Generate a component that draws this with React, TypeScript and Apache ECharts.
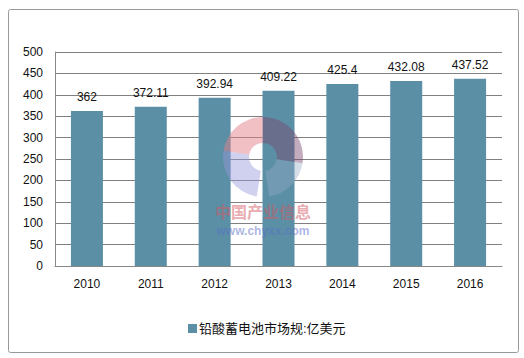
import React, { useEffect, useRef } from "react";
import * as echarts from "echarts";

const categories = ["2010", "2011", "2012", "2013", "2014", "2015", "2016"];
const values = [362, 372.11, 392.94, 409.22, 425.4, 432.08, 437.52];
const valueLabels = ["362", "372.11", "392.94", "409.22", "425.4", "432.08", "437.52"];
const seriesName = "铅酸蓄电池市场规:亿美元";

export default function App() {
  const ref = useRef<HTMLDivElement>(null);
  useEffect(() => {
    const chart = echarts.init(ref.current!, null, { renderer: "svg" });
    const font = "'Liberation Sans', 'Noto Sans CJK SC', sans-serif";
    chart.setOption({
      animation: false,
      backgroundColor: "#ffffff",
      textStyle: { fontFamily: font },
      grid: { left: 55, right: 22, top: 52, bottom: 92 },
      legend: {
        bottom: 18,
        left: 183,
        itemWidth: 9,
        itemHeight: 9,
        itemGap: 4,
        icon: "rect",
        textStyle: { fontSize: 13, color: "#111", fontFamily: font, padding: [0, 0, 0, -3] },
        data: [seriesName],
      },
      xAxis: {
        type: "category",
        data: categories,
        axisTick: { show: false },
        axisLine: { lineStyle: { color: "#888" } },
        axisLabel: { color: "#111", fontSize: 12, margin: 12 },
      },
      yAxis: {
        type: "value",
        min: 0,
        max: 500,
        interval: 50,
        axisLine: { show: true, lineStyle: { color: "#888" } },
        axisTick: { show: false },
        axisLabel: { color: "#111", fontSize: 12, margin: 12 },
        splitLine: { lineStyle: { color: "#808080" } },
      },
      series: [
        {
          name: seriesName,
          type: "bar",
          data: values,
          barWidth: 32,
          itemStyle: { color: "#5b8fa5" },
          label: {
            show: true,
            position: "top",
            distance: 8,
            color: "#111",
            fontSize: 12,
            formatter: (p: any) => valueLabels[p.dataIndex],
          },
        },
      ],
      graphic: [
        {
          type: "rect",
          left: 6,
          top: 7,
          z: 100,
          shape: { width: 510, height: 343, r: 2 },
          style: { fill: "none", stroke: "#999", lineWidth: 1 },
          silent: true,
        },
        {
          type: "group",
          x: 263,
          y: 157,
          z: 100,
          silent: true,
          children: [
            { type: "sector", z: 100, shape: { cx: 0, cy: 0, r0: 14, r: 40, startAngle: -Math.PI * 0.95, endAngle: -Math.PI * 0.5 }, style: { fill: "rgba(225,130,140,0.5)" } },
            { type: "sector", z: 100, shape: { cx: 0, cy: 0, r0: 14, r: 40, startAngle: -Math.PI * 0.5, endAngle: Math.PI * 0.05 }, style: { fill: "rgba(120,70,110,0.45)" } },
            { type: "sector", z: 100, shape: { cx: 0, cy: 0, r0: 14, r: 40, startAngle: Math.PI * 0.05, endAngle: Math.PI * 0.45 }, style: { fill: "rgba(150,170,200,0.4)" } },
            { type: "sector", z: 100, shape: { cx: 0, cy: 0, r0: 14, r: 40, startAngle: Math.PI * 0.55, endAngle: Math.PI * 1.05 }, style: { fill: "rgba(150,150,220,0.45)" } },
            { type: "text", z: 100, x: 0, y: 54, style: { text: "中国产业信息", fill: "rgba(210,90,100,0.5)", fontSize: 16, fontWeight: "bold", align: "center", verticalAlign: "middle", fontFamily: "'Noto Sans CJK SC', sans-serif" } },
            { type: "text", z: 100, x: 0, y: 74, style: { text: "www.chyxx.com", fill: "rgba(90,110,200,0.5)", fontSize: 12, fontWeight: "bold", align: "center", verticalAlign: "middle", fontFamily: "'Liberation Sans', sans-serif" } },
          ],
        },
      ],
    });
    return () => chart.dispose();
  }, []);
  return <div ref={ref} style={{ width: 524, height: 358, position: "absolute", left: 0, top: 0 }} />;
}
